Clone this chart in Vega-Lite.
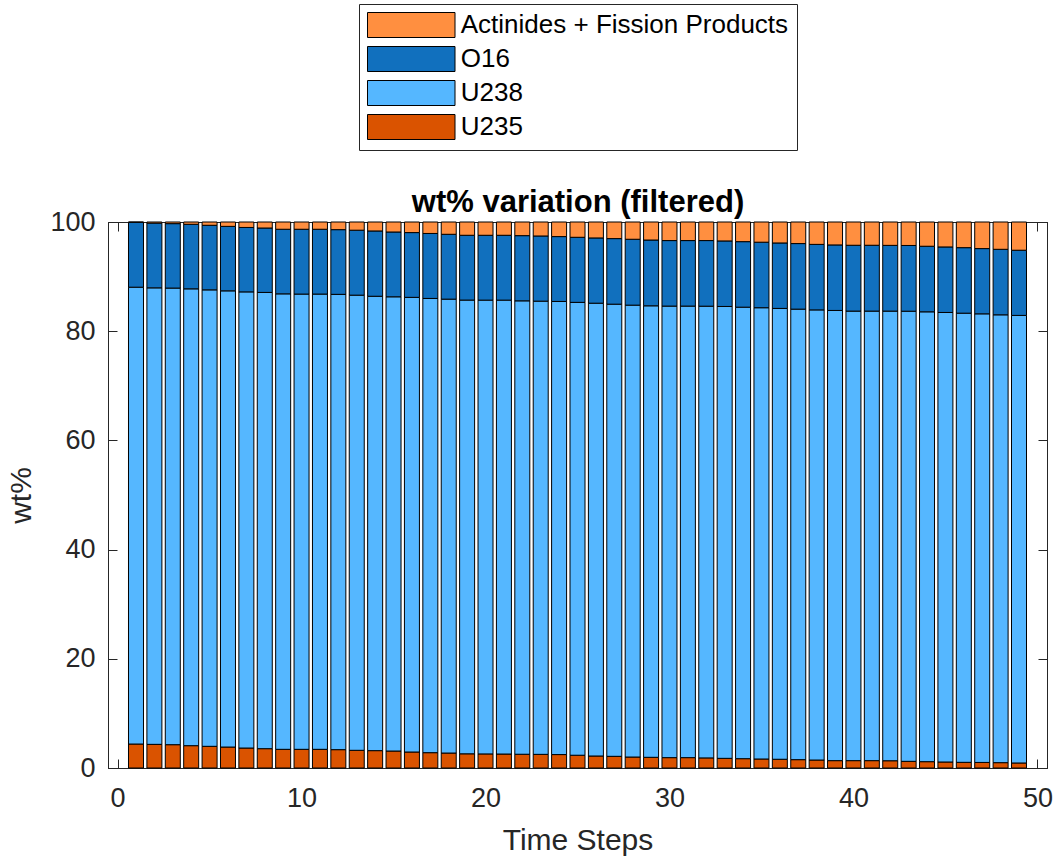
{
  "$schema": "https://vega.github.io/schema/vega-lite/v6.json",
  "width": 939,
  "height": 546,
  "autosize": "none",
  "padding": {"left": 108, "top": 222, "right": 15, "bottom": 93},
  "background": "white",
  "config": {
    "font": "Liberation Sans",
    "view": {"stroke": "#262626", "strokeWidth": 1},
    "axis": {
      "domainColor": "#262626", "tickColor": "#262626", "labelColor": "#262626", "titleColor": "#262626",
      "grid": false, "labelFont": "Liberation Sans", "titleFont": "Liberation Sans",
      "labelFontSize": 27, "titleFontSize": 30, "titleFontWeight": "normal",
      "tickSize": -9, "tickWidth": 1, "domainWidth": 1
    }
  },
  "data": {"values": [
    {"t":1,"U235":4.39,"U238":83.67,"O16":11.89,"AFP":0.05},
    {"t":2,"U235":4.33,"U238":83.61,"O16":11.86,"AFP":0.20},
    {"t":3,"U235":4.27,"U238":83.63,"O16":11.80,"AFP":0.30},
    {"t":4,"U235":4.09,"U238":83.67,"O16":11.82,"AFP":0.42},
    {"t":5,"U235":3.97,"U238":83.60,"O16":11.83,"AFP":0.60},
    {"t":6,"U235":3.84,"U238":83.55,"O16":11.81,"AFP":0.80},
    {"t":7,"U235":3.66,"U238":83.54,"O16":11.80,"AFP":1.00},
    {"t":8,"U235":3.54,"U238":83.56,"O16":11.80,"AFP":1.10},
    {"t":9,"U235":3.42,"U238":83.42,"O16":11.83,"AFP":1.33},
    {"t":10,"U235":3.42,"U238":83.38,"O16":11.87,"AFP":1.33},
    {"t":11,"U235":3.42,"U238":83.38,"O16":11.87,"AFP":1.33},
    {"t":12,"U235":3.36,"U238":83.39,"O16":11.85,"AFP":1.40},
    {"t":13,"U235":3.24,"U238":83.36,"O16":11.90,"AFP":1.50},
    {"t":14,"U235":3.18,"U238":83.22,"O16":11.96,"AFP":1.64},
    {"t":15,"U235":3.11,"U238":83.19,"O16":11.87,"AFP":1.83},
    {"t":16,"U235":2.93,"U238":83.27,"O16":11.86,"AFP":1.94},
    {"t":17,"U235":2.81,"U238":83.19,"O16":11.90,"AFP":2.10},
    {"t":18,"U235":2.74,"U238":83.13,"O16":11.88,"AFP":2.25},
    {"t":19,"U235":2.60,"U238":83.10,"O16":11.87,"AFP":2.43},
    {"t":20,"U235":2.58,"U238":83.11,"O16":11.88,"AFP":2.43},
    {"t":21,"U235":2.56,"U238":83.13,"O16":11.88,"AFP":2.43},
    {"t":22,"U235":2.52,"U238":83.04,"O16":11.94,"AFP":2.50},
    {"t":23,"U235":2.50,"U238":83.00,"O16":11.94,"AFP":2.56},
    {"t":24,"U235":2.46,"U238":82.99,"O16":11.88,"AFP":2.67},
    {"t":25,"U235":2.34,"U238":82.94,"O16":11.92,"AFP":2.80},
    {"t":26,"U235":2.20,"U238":82.93,"O16":11.95,"AFP":2.92},
    {"t":27,"U235":2.14,"U238":82.81,"O16":12.01,"AFP":3.04},
    {"t":28,"U235":2.01,"U238":82.76,"O16":12.07,"AFP":3.16},
    {"t":29,"U235":1.96,"U238":82.69,"O16":12.05,"AFP":3.30},
    {"t":30,"U235":1.90,"U238":82.70,"O16":12.00,"AFP":3.40},
    {"t":31,"U235":1.90,"U238":82.70,"O16":12.00,"AFP":3.40},
    {"t":32,"U235":1.85,"U238":82.73,"O16":12.02,"AFP":3.40},
    {"t":33,"U235":1.77,"U238":82.76,"O16":12.00,"AFP":3.47},
    {"t":34,"U235":1.71,"U238":82.69,"O16":12.00,"AFP":3.60},
    {"t":35,"U235":1.65,"U238":82.65,"O16":12.00,"AFP":3.70},
    {"t":36,"U235":1.60,"U238":82.57,"O16":11.99,"AFP":3.84},
    {"t":37,"U235":1.53,"U238":82.51,"O16":12.01,"AFP":3.95},
    {"t":38,"U235":1.46,"U238":82.44,"O16":12.00,"AFP":4.10},
    {"t":39,"U235":1.35,"U238":82.45,"O16":12.00,"AFP":4.20},
    {"t":40,"U235":1.35,"U238":82.33,"O16":12.06,"AFP":4.26},
    {"t":41,"U235":1.35,"U238":82.33,"O16":12.06,"AFP":4.26},
    {"t":42,"U235":1.33,"U238":82.35,"O16":12.04,"AFP":4.28},
    {"t":43,"U235":1.22,"U238":82.44,"O16":12.04,"AFP":4.30},
    {"t":44,"U235":1.16,"U238":82.39,"O16":12.01,"AFP":4.44},
    {"t":45,"U235":1.10,"U238":82.33,"O16":12.00,"AFP":4.57},
    {"t":46,"U235":1.04,"U238":82.26,"O16":12.00,"AFP":4.70},
    {"t":47,"U235":1.02,"U238":82.16,"O16":11.95,"AFP":4.87},
    {"t":48,"U235":0.98,"U238":82.02,"O16":12.00,"AFP":5.00},
    {"t":49,"U235":0.92,"U238":81.97,"O16":11.94,"AFP":5.17}
  ]},
  "transform": [
    {"fold": ["U235", "U238", "O16", "AFP"], "as": ["key", "wt"]},
    {"calculate": "datum.key === 'AFP' ? 'Actinides + Fission Products' : datum.key", "as": "comp"},
    {"calculate": "indexof(['U235','U238','O16','AFP'], datum.key)", "as": "ord"}
  ],
  "layer": [
    {
      "mark": {"type": "bar", "size": 15, "stroke": "black", "strokeWidth": 1},
      "encoding": {
        "x": {"field": "t", "type": "quantitative",
          "scale": {"domain": [-0.25, 50.25], "nice": false, "zero": false},
          "axis": {"values": [0, 10, 20, 30, 40, 50], "title": "Time Steps", "labelPadding": 26, "titlePadding": 14}},
        "y": {"field": "wt", "type": "quantitative", "stack": "zero",
          "scale": {"domain": [0, 100], "nice": false},
          "axis": {"values": [0, 20, 40, 60, 80, 100], "title": "wt%", "labelPadding": 22, "titlePadding": 13}},
        "color": {"field": "comp", "type": "nominal",
          "scale": {"domain": ["Actinides + Fission Products", "O16", "U238", "U235"], "range": ["#FF8F40", "#1170BE", "#55B7FF", "#DA5300"]},
          "legend": {"orient": "none", "legendX": 251, "legendY": -218, "title": null, "direction": "vertical",
            "symbolType": "M-3.5,-1H3.5V1H-3.5Z", "symbolSize": 625, "symbolOffset": 31.25, "labelOffset": 36.5,
            "symbolStrokeColor": "black", "symbolStrokeWidth": 1, "symbolOpacity": 1,
            "labelFont": "Liberation Sans", "labelFontSize": 26, "labelColor": "black", "labelLimit": 0,
            "strokeColor": "#262626", "fillColor": "white", "padding": 8, "rowPadding": 4}},
        "order": {"field": "ord", "type": "quantitative", "sort": "ascending"}
      }
    },
    {
      "mark": {"type": "point", "opacity": 0},
      "encoding": {
        "x": {"field": "t", "type": "quantitative",
          "scale": {"domain": [-0.25, 50.25], "nice": false, "zero": false},
          "axis": {"orient": "top", "values": [0, 10, 20, 30, 40, 50], "labels": false,
            "title": "wt% variation (filtered)", "titleFontSize": 31, "titleFontWeight": "bold", "titleColor": "black", "titlePadding": 3}},
        "y": {"field": "wt", "type": "quantitative",
          "scale": {"domain": [0, 100], "nice": false},
          "axis": {"orient": "right", "values": [0, 20, 40, 60, 80, 100], "labels": false, "title": null}}
      }
    }
  ],
  "resolve": {"axis": {"x": "independent", "y": "independent"}}
}
